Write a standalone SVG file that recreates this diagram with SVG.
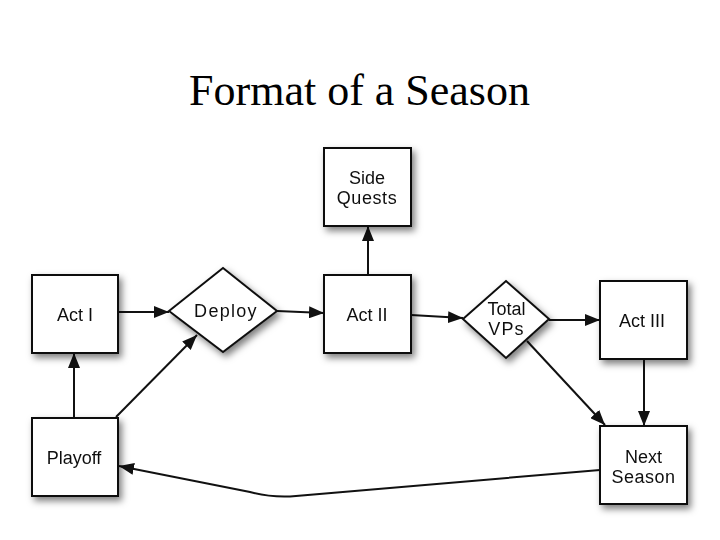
<svg xmlns="http://www.w3.org/2000/svg" width="720" height="540" viewBox="0 0 720 540">
<style>
.box{fill:#fff;stroke:#111;stroke-width:2}
.lbl{font-family:"Liberation Sans",Arial,sans-serif;font-size:18px;fill:#111;text-anchor:middle}
.con{fill:none;stroke:#111;stroke-width:2}
.title{font-family:"Liberation Serif","Times New Roman",serif;font-size:44px;fill:#000;text-anchor:middle}
</style>
<defs>
<filter id="sh" x="-30%" y="-30%" width="160%" height="160%">
<feDropShadow dx="3" dy="4" stdDeviation="3.5" flood-color="#000" flood-opacity="0.5"/>
</filter>
<marker id="ah" markerUnits="userSpaceOnUse" markerWidth="16" markerHeight="12" viewBox="0 0 16 12" refX="15" refY="6" orient="auto">
<path d="M0,0 L15,6 L0,12 z" fill="#111"/>
</marker>
</defs>
<rect width="720" height="540" fill="#fff"/>
<text class="title" x="359.5" y="105">Format of a Season</text>
<g id="connectors">
<path class="con" marker-end="url(#ah)" d="M118,312 L169,312"/>
<path class="con" marker-end="url(#ah)" d="M277,311 L324,313"/>
<path class="con" marker-end="url(#ah)" d="M368,275 L368,226"/>
<path class="con" marker-end="url(#ah)" d="M411,315 L463,318"/>
<path class="con" marker-end="url(#ah)" d="M549,320 L600,320"/>
<path class="con" marker-end="url(#ah)" d="M527,341 L605,425"/>
<path class="con" marker-end="url(#ah)" d="M644,359 L644,426"/>
<path class="con" marker-end="url(#ah)" d="M74,418 L74,353"/>
<path class="con" marker-end="url(#ah)" d="M116,417 L197,335"/>
<path class="con" marker-end="url(#ah)" d="M600,470 L296,496 Q272,498 250,492 L119,466"/>
</g>
<g id="act1" filter="url(#sh)">
<rect class="box" x="32" y="275" width="86" height="78"/>
<text class="lbl" x="75" y="321">Act I</text>
</g>
<g id="deploy" filter="url(#sh)">
<polygon class="box" points="169,311 223,268 277,311 223,352"/>
<text class="lbl" x="226" y="317" style="letter-spacing:1.3px">Deploy</text>
</g>
<g id="act2" filter="url(#sh)">
<rect class="box" x="324" y="275" width="87" height="78"/>
<text class="lbl" x="367" y="321">Act II</text>
</g>
<g id="sidequests" filter="url(#sh)">
<rect class="box" x="324" y="148" width="87" height="78"/>
<text class="lbl" x="367" y="184">Side</text>
<text class="lbl" x="367" y="204" style="letter-spacing:0.6px">Quests</text>
</g>
<g id="totalvps" filter="url(#sh)">
<polygon class="box" points="463,319 506,281 549,319 506,358"/>
<text class="lbl" x="506.5" y="315">Total</text>
<text class="lbl" x="506.5" y="335" style="letter-spacing:1.2px">VPs</text>
</g>
<g id="act3" filter="url(#sh)">
<rect class="box" x="600" y="281" width="87" height="78"/>
<text class="lbl" x="642" y="327">Act III</text>
</g>
<g id="playoff" filter="url(#sh)">
<rect class="box" x="32" y="418" width="86" height="78"/>
<text class="lbl" x="74" y="464">Playoff</text>
</g>
<g id="nextseason" filter="url(#sh)">
<rect class="box" x="600" y="426" width="87" height="78"/>
<text class="lbl" x="643.5" y="463">Next</text>
<text class="lbl" x="643.5" y="483" style="letter-spacing:0.5px">Season</text>
</g>
</svg>
